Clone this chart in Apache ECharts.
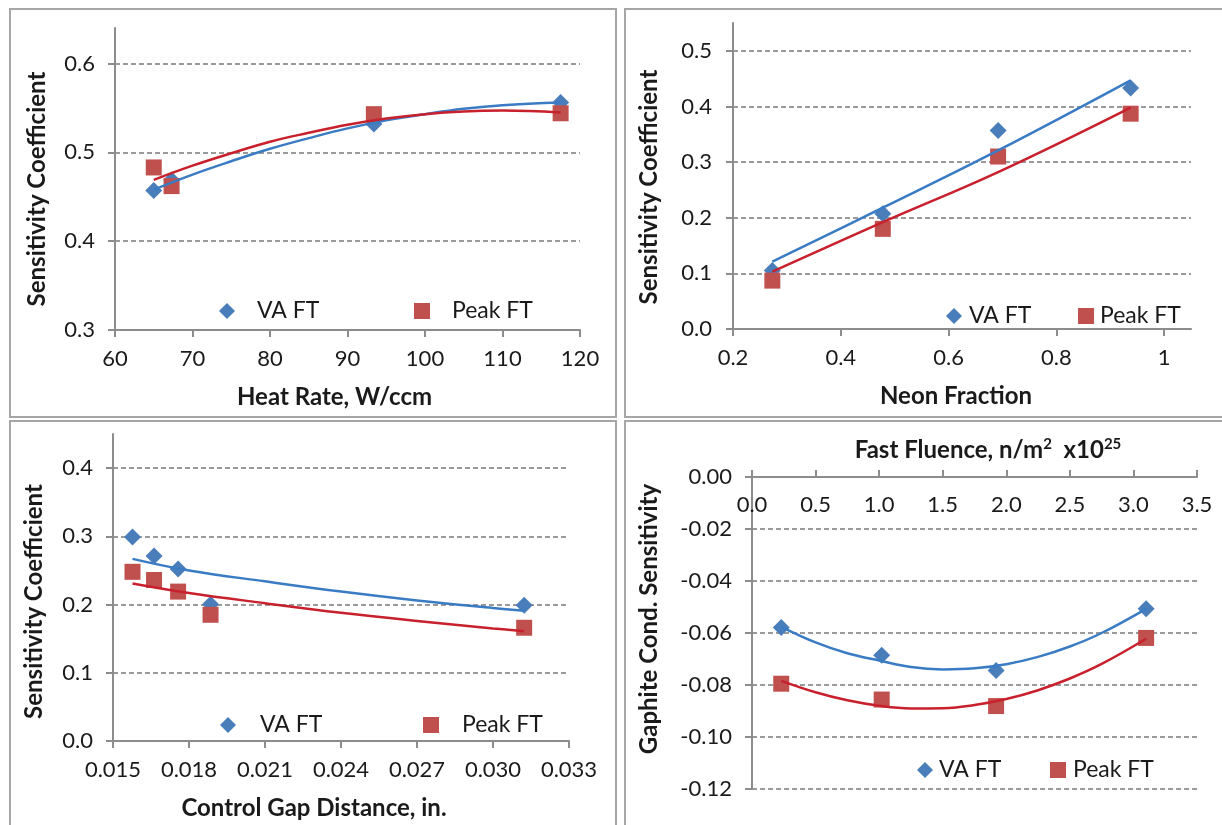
<!DOCTYPE html>
<html lang="en">

<head>
    <meta charset="UTF-8">
    <title>Sensitivity Coefficients</title>
    <style>
        body {
            margin: 0;
            background: #fff;
            overflow: hidden;
            width: 1222px;
            height: 825px;
        }

        .panel {
            position: absolute;
            border: 2px solid #a6a6a6;
            background: #fff;
        }
    </style>
    <script src="https://cdn.jsdelivr.net/npm/echarts@6/dist/echarts.min.js"></script>
</head>

<body>
    <div id="p1" class="panel" style="left:9px;top:8px;width:604px;height:406px;"></div>
    <div id="p2" class="panel" style="left:624px;top:8px;width:604px;height:406px;"></div>
    <div id="p3" class="panel" style="left:9px;top:420px;width:604px;height:406px;"></div>
    <div id="p4" class="panel" style="left:624px;top:420px;width:604px;height:406px;"></div>

    <script type="text/javascript">
        // 图1 Heat Rate
        var heatX = [65.0, 67.3, 93.4, 117.5];
        var heatVA = [0.457, 0.469, 0.532, 0.556];
        var heatPeak = [0.483, 0.462, 0.543, 0.544];
        // 趋势线
        var heatTrendX = [65, 70, 75, 80, 85, 90, 95, 100, 105, 110, 117.5];
        var heatTrendVA = [0.458, 0.475, 0.490, 0.504, 0.516, 0.527, 0.536, 0.543, 0.549, 0.553, 0.556];
        var heatTrendPeak = [0.469, 0.485, 0.499, 0.512, 0.522, 0.531, 0.538, 0.543, 0.546, 0.547, 0.545];
        var heatXTicks = [60, 70, 80, 90, 100, 110, 120];
        var heatYTicks = [0.3, 0.4, 0.5, 0.6];

        // 图2 Neon Fraction
        var neonX = [0.273, 0.478, 0.692, 0.938];
        var neonVA = [0.105, 0.207, 0.357, 0.433];
        var neonPeak = [0.087, 0.180, 0.310, 0.387];
        var neonTrendVA = [0.121, 0.218, 0.321, 0.447];
        var neonTrendPeak = [0.103, 0.192, 0.282, 0.398];
        var neonXTicks = [0.2, 0.4, 0.6, 0.8, 1];
        var neonYTicks = [0.0, 0.1, 0.2, 0.3, 0.4, 0.5];

        // 图3 Control Gap Distance
        var gapX = [0.01577, 0.01662, 0.01757, 0.01885, 0.03123];
        var gapVA = [0.299, 0.271, 0.252, 0.2005, 0.199];
        var gapPeak = [0.248, 0.236, 0.219, 0.185, 0.166];
        var gapTrendX = [0.01577, 0.018, 0.021, 0.024, 0.027, 0.030, 0.03123];
        var gapTrendVA = [0.267, 0.250, 0.234, 0.219, 0.206, 0.195, 0.191];
        var gapTrendPeak = [0.231, 0.217, 0.202, 0.188, 0.176, 0.165, 0.161];
        var gapXTicks = [0.015, 0.018, 0.021, 0.024, 0.027, 0.030, 0.033];
        var gapYTicks = [0.0, 0.1, 0.2, 0.3, 0.4];

        // 图4 Fast Fluence
        var fluenceX = [0.23, 1.02, 1.92, 3.10];
        var fluenceVA = [-0.0579, -0.0686, -0.0744, -0.0507];
        var fluencePeak = [-0.0795, -0.0856, -0.0881, -0.0619];
        var fluenceTrendX = [0.23, 0.5, 0.75, 1.0, 1.25, 1.5, 1.75, 2.0, 2.25, 2.5, 2.75, 3.1];
        var fluenceTrendVA = [-0.0576, -0.0636, -0.0678, -0.0706, -0.0731, -0.0740, -0.0736, -0.0720, -0.0692, -0.0652, -0.0600, -0.0507];
        var fluenceTrendPeak = [-0.0784, -0.0828, -0.0859, -0.0880, -0.0890, -0.0889, -0.0877, -0.0854, -0.0820, -0.0775, -0.0719, -0.0622];
        var fluenceXTicks = [0.0, 0.5, 1.0, 1.5, 2.0, 2.5, 3.0, 3.5];
        var fluenceYTicks = [0.00, -0.02, -0.04, -0.06, -0.08, -0.10, -0.12];

        var FONT = 'Lato';
        var TEXT = '#1a1a1a';
        var AXIS = '#8c8c8c';
        var BLUE = '#4a7ebb';
        var RED = '#c0504d';
        var BLUE_LINE = '#3a7cc4';
        var RED_LINE = '#c8202c';

        // 把 x / y 两个数组合成点
        function pairs(xs, ys) {
            return xs.map(function (x, i) { return [x, ys[i]]; });
        }

        function axisBase(ticks, digits) {
            return {
                type: 'value',
                axisLine: { show: true, onZero: false, lineStyle: { color: AXIS, width: 2 } },
                axisTick: { show: true, length: 7, customValues: ticks, lineStyle: { color: AXIS, width: 2 } },
                axisLabel: {
                    customValues: ticks,
                    fontFamily: FONT, fontSize: 22, color: TEXT,
                    formatter: function (v) { return digits == null ? String(v) : v.toFixed(digits); }
                },
                splitLine: { show: false },
                nameTextStyle: { fontFamily: FONT, fontSize: 24, fontWeight: 'bold', color: TEXT }
            };
        }

        function legendItem(name, left, top, pad) {
            return {
                data: [name],
                left: left,
                top: top,
                itemWidth: 16,
                itemHeight: 16,
                textStyle: { fontFamily: FONT, fontSize: 23, color: TEXT, lineHeight: 24, padding: [0, 0, 0, pad] }
            };
        }

        function buildSeries(px, va, peak, tx, tva, tpeak) {
            return [
                { name: 'VA FT', type: 'scatter', symbol: 'diamond', symbolSize: 17, itemStyle: { color: BLUE, opacity: 1 }, data: pairs(px, va) },
                { name: 'Peak FT', type: 'scatter', symbol: 'rect', symbolSize: 16, itemStyle: { color: RED, opacity: 1 }, data: pairs(px, peak) },
                { name: 'VA trend', type: 'line', smooth: 0.4, showSymbol: false, lineStyle: { color: BLUE_LINE, width: 2.5 }, data: pairs(tx, tva) },
                { name: 'Peak trend', type: 'line', smooth: 0.4, showSymbol: false, lineStyle: { color: RED_LINE, width: 2.5 }, data: pairs(tx, tpeak) }
            ];
        }

        function gridLines(axis) {
            axis.splitLine = { show: true, lineStyle: { color: '#9a9a9a', width: 1.8, type: [5, 3] } };
            return axis;
        }

        // 面板1
        var x1 = axisBase(heatXTicks, null);
        x1.min = 60; x1.max = 120;
        x1.axisLabel.margin = 18;
        x1.name = 'Heat Rate, W/ccm'; x1.nameLocation = 'middle'; x1.nameGap = 55;
        x1.nameTextStyle.padding = [0, 26, 0, 0];
        var y1 = gridLines(axisBase(heatYTicks, 1));
        y1.min = 0.3; y1.max = 0.64;
        y1.axisLabel.margin = 20;
        y1.name = 'Sensitivity Coefficient'; y1.nameLocation = 'middle'; y1.nameGap = 66;
        y1.nameTextStyle.padding = [0, 20, 0, 0];

        var option1 = {
            animation: false,
            grid: { left: 104, top: 18, width: 465, height: 302 },
            legend: [legendItem('VA FT', 203, 284, 17), legendItem('Peak FT', 398, 284, 17)],
            xAxis: x1,
            yAxis: y1,
            series: buildSeries(heatX, heatVA, heatPeak, heatTrendX, heatTrendVA, heatTrendPeak)
        };

        // 面板2
        var x2 = axisBase(neonXTicks, null);
        x2.min = 0.2; x2.max = 1.05;
        x2.axisLabel.margin = 18;
        x2.name = 'Neon Fraction'; x2.nameLocation = 'middle'; x2.nameGap = 55;
        x2.nameTextStyle.padding = [0, 12, 0, 0];
        var y2 = gridLines(axisBase(neonYTicks, 1));
        y2.min = 0; y2.max = 0.55;
        y2.axisLabel.margin = 21;
        y2.name = 'Sensitivity Coefficient'; y2.nameLocation = 'middle'; y2.nameGap = 72;
        y2.nameTextStyle.padding = [0, 22, 0, 0];

        var option2 = {
            animation: false,
            grid: { left: 107, top: 13, width: 458, height: 306 },
            legend: [legendItem('VA FT', 315, 289, 2), legendItem('Peak FT', 447, 289, 1)],
            xAxis: x2,
            yAxis: y2,
            series: buildSeries(neonX, neonVA, neonPeak, neonX, neonTrendVA, neonTrendPeak)
        };

        // 面板3
        var x3 = axisBase(gapXTicks, 3);
        x3.min = 0.015; x3.max = 0.033;
        x3.axisLabel.margin = 18;
        x3.name = 'Control Gap Distance, in.'; x3.nameLocation = 'middle'; x3.nameGap = 55;
        x3.nameTextStyle.padding = [0, 54, 0, 0];
        var y3 = gridLines(axisBase(gapYTicks, 1));
        y3.min = 0; y3.max = 0.45;
        y3.axisLabel.margin = 20;
        y3.name = 'Sensitivity Coefficient'; y3.nameLocation = 'middle'; y3.nameGap = 67;
        y3.nameTextStyle.padding = [0, 28, 0, 0];

        var option3 = {
            animation: false,
            grid: { left: 102, top: 12, width: 456, height: 307 },
            legend: [legendItem('VA FT', 204, 286, 19), legendItem('Peak FT', 407, 286, 18)],
            xAxis: x3,
            yAxis: y3,
            series: buildSeries(gapX, gapVA, gapPeak, gapTrendX, gapTrendVA, gapTrendPeak)
        };

        // 面板4 (x 轴在上方)
        var x4 = axisBase(fluenceXTicks, 1);
        x4.position = 'top';
        x4.min = 0; x4.max = 3.5;
        x4.axisTick.inside = false;
        x4.axisLabel.inside = true;
        x4.axisLabel.margin = 17;
        x4.name = 'Fast Fluence, n/m{sup|2}  x10{sup|25}'; x4.nameLocation = 'middle'; x4.nameGap = 14;
        x4.nameTextStyle.padding = [0, 0, 0, 27];
        x4.nameTextStyle.rich = {
            sup: { fontFamily: FONT, fontSize: 15, fontWeight: 'bold', color: TEXT, verticalAlign: 'top', padding: [0, 0, 11, 0] }
        };
        var y4 = gridLines(axisBase(fluenceYTicks, 2));
        y4.min = -0.12; y4.max = 0;
        y4.axisLabel.margin = 20;
        y4.name = 'Gaphite Cond. Sensitivity'; y4.nameLocation = 'middle'; y4.nameGap = 91;
        y4.nameTextStyle.padding = [0, 0, 0, 28];

        var option4 = {
            animation: false,
            grid: { left: 126, top: 55, width: 445, height: 312 },
            legend: [legendItem('VA FT', 286, 331, 1), legendItem('Peak FT', 419, 331, 2)],
            xAxis: x4,
            yAxis: y4,
            series: buildSeries(fluenceX, fluenceVA, fluencePeak, fluenceTrendX, fluenceTrendVA, fluenceTrendPeak)
        };

        echarts.init(document.getElementById('p1')).setOption(option1);
        echarts.init(document.getElementById('p2')).setOption(option2);
        echarts.init(document.getElementById('p3')).setOption(option3);
        echarts.init(document.getElementById('p4')).setOption(option4);
    </script>
</body>

</html>
